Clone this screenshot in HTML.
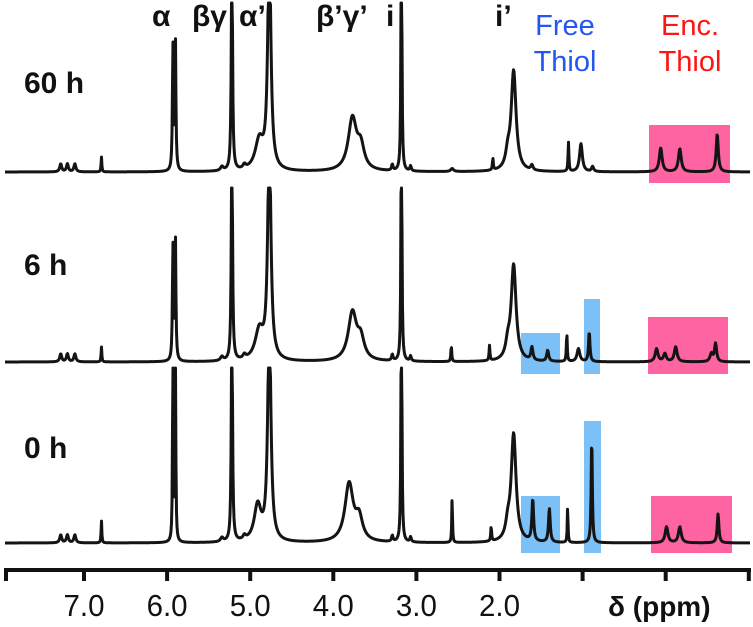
<!DOCTYPE html>
<html><head><meta charset="utf-8"><style>
html,body{margin:0;padding:0;background:#fff;}
svg{display:block;font-family:"Liberation Sans",Arial,sans-serif;}
</style></head><body>
<svg id="chart" width="753" height="627" viewBox="0 0 753 627">
<g id="boxes">
<rect x="649" y="125" width="81" height="58" fill="#ff64a2"/>
<rect x="521" y="333" width="39" height="41" fill="#7cc0f8"/>
<rect x="584" y="299" width="16" height="75" fill="#7cc0f8"/>
<rect x="648" y="317" width="80" height="57" fill="#ff64a2"/>
<rect x="521" y="496" width="39" height="57" fill="#7cc0f8"/>
<rect x="584" y="421" width="17" height="132" fill="#7cc0f8"/>
<rect x="651" y="496" width="81" height="57" fill="#ff64a2"/>
</g>
<g id="spectra"></g>
<g id="axis">
<line x1="5" y1="570" x2="751" y2="570" stroke="#111" stroke-width="4"/>
</g>
<g font-weight="bold" font-size="30" fill="#111">
<text x="152" y="26">α</text>
<text x="192" y="26">βγ</text>
<text x="239" y="26">α’</text>
<text x="316" y="26">β’γ’</text>
<text x="386" y="26">i</text>
<text x="495" y="26">i’</text>
</g>
<g font-size="29">
<text x="565" y="35" text-anchor="middle" fill="#2456f0">Free</text>
<text x="565" y="71" text-anchor="middle" fill="#2456f0">Thiol</text>
<text x="690" y="35" text-anchor="middle" fill="#ff1414">Enc.</text>
<text x="690" y="71" text-anchor="middle" fill="#ff1414">Thiol</text>
</g>
<g font-weight="bold" font-size="30" fill="#111">
<text x="24" y="93">60 h</text>
<text x="24" y="275">6 h</text>
<text x="24" y="458">0 h</text>
</g>
<text x="608" y="616" font-weight="bold" font-size="28" fill="#111">δ (ppm)</text>
</svg>
<script>
const tickValues=[8,7,6,5,4,3,2,1,0,-1];
const tickLabels=["7.0","6.0","5.0","4.0","3.0","2.0"];
const tickLabelValues=[7,6,5,4,3,2];
// peaks: [ppm, height(px), half-width(ppm)]
const peaks60=[[7.28,8,0.014],[7.20,8,0.014],[7.11,8,0.014],[6.79,15,0.005],[5.93,125,0.007],[5.90,130,0.007],[5.34,4,0.02],[5.22,250,0.008],[5.07,4,0.02],[4.89,30,0.06],[4.77,230,0.022],[3.77,52,0.06],[3.67,22,0.05],[3.29,6,0.01],[3.18,300,0.006],[3.07,5,0.01],[2.57,3,0.02],[2.08,12,0.006],[1.90,14,0.03],[1.83,100,0.035],[1.61,5,0.015],[1.17,29,0.006],[1.02,28,0.02],[0.88,5,0.015],[0.06,24,0.02],[-0.17,23,0.02],[-0.62,38,0.015]];
const peaks6=[[7.28,8,0.014],[7.20,8,0.014],[7.11,8,0.014],[6.79,15,0.005],[5.93,115,0.007],[5.90,122,0.007],[5.34,4,0.02],[5.22,250,0.008],[5.07,4,0.02],[4.89,30,0.06],[4.77,230,0.022],[3.77,48,0.06],[3.67,20,0.05],[3.29,6,0.01],[3.18,300,0.006],[3.07,5,0.01],[2.58,16,0.006],[2.12,15,0.006],[1.90,14,0.03],[1.83,96,0.035],[1.61,13,0.014],[1.42,11,0.014],[1.19,29,0.006],[1.05,13,0.02],[0.92,30,0.01],[0.11,13,0.02],[0.01,8,0.02],[-0.12,15,0.02],[-0.55,8,0.02],[-0.60,18,0.015]];
const peaks0=[[7.28,8,0.014],[7.20,8,0.014],[7.11,8,0.014],[6.79,22,0.005],[5.93,220,0.005],[5.90,220,0.005],[5.34,4,0.02],[5.22,250,0.008],[5.07,4,0.02],[4.91,36,0.05],[4.77,230,0.022],[3.81,58,0.06],[3.69,22,0.05],[3.29,6,0.01],[3.18,300,0.006],[3.07,5,0.01],[2.57,46,0.005],[2.10,15,0.006],[1.90,14,0.03],[1.83,108,0.035],[1.60,42,0.012],[1.40,34,0.012],[1.18,37,0.005],[0.89,107,0.008],[-0.01,16,0.02],[-0.17,16,0.02],[-0.63,29,0.012]];
const baselines=[172,362,543];
const clipTops=[3,188,368];
const spectra=[peaks60,peaks6,peaks0];
const spectrumNames=['spectrum-60h','spectrum-6h','spectrum-0h'];

function xScale(ppm){return 84+(7-ppm)*83.1;}
function ppmFromX(x){return 7-(x-84)/83.1;}
const NS='http://www.w3.org/2000/svg';
const gS=document.getElementById('spectra');
spectra.forEach((pk,i)=>{
  let pts=[];
  for(let x=5;x<=750;x+=0.5){
    const p=ppmFromX(x);let s=0;
    pk.forEach(([c,h,w])=>{const d=(p-c)/w;s+=h/(1+d*d);});
    let y=baselines[i]-s; if(y<clipTops[i])y=clipTops[i];
    pts.push(x.toFixed(1)+','+y.toFixed(2));
  }
  const pl=document.createElementNS(NS,'polyline');
  pl.setAttribute('points',pts.join(' '));
  pl.setAttribute('fill','none');pl.setAttribute('stroke','#141414');
  pl.setAttribute('stroke-width','3');pl.setAttribute('stroke-linejoin','round');
  
  
  gS.appendChild(pl);
});
const gA=document.getElementById('axis');
tickValues.forEach(v=>{
  const x=Math.min(750,Math.max(6,xScale(v)));
  const t=document.createElementNS(NS,'line');
  t.setAttribute('x1',x);t.setAttribute('x2',x);t.setAttribute('y1',568);t.setAttribute('y2',581);
  t.setAttribute('stroke','#111');t.setAttribute('stroke-width','4');
  
  
  gA.appendChild(t);
});
tickLabelValues.forEach((v,i)=>{
  const t=document.createElementNS(NS,'text');
  t.setAttribute('x',xScale(v));t.setAttribute('y',616);t.setAttribute('text-anchor','middle');
  t.setAttribute('font-size','31');t.setAttribute('fill','#111');
  t.setAttribute('textLength','41');t.setAttribute('lengthAdjust','spacingAndGlyphs');
  t.textContent=tickLabels[i];
  
  
  gA.appendChild(t);
});
</script>
</body></html>
